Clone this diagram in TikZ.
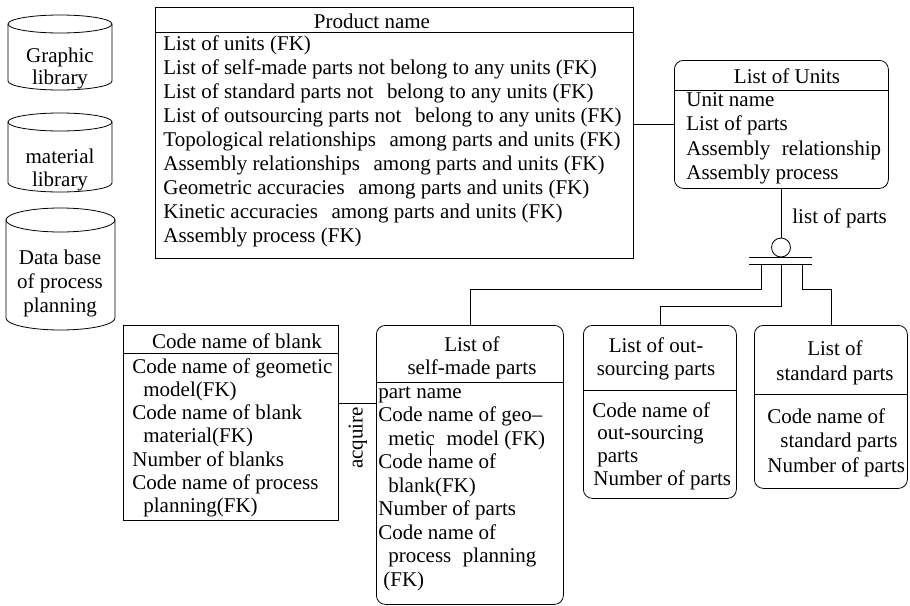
\documentclass[tikz,border=0pt]{standalone}
\usepackage{fontspec}
\setmainfont{Liberation Serif}
\begin{document}
\begin{tikzpicture}[x=1pt, y=-1pt, line width=0.8pt,
    tbl/.style={draw, anchor=north west, inner sep=0pt},
    ent/.style={tbl, rounded corners=9pt},
    txt/.style={anchor=base west, inner sep=0pt, font=\fontsize{21}{24}\selectfont},
    hdr/.style={anchor=base, inner sep=0pt, font=\fontsize{21}{24}\selectfont}]
    \useasboundingbox (0,0) rectangle (910,605);

    % data stores on the left
    \foreach \cx/\rx/\yt/\yb/\ry in {60/52/24/81/9, 60/52/122/183/9, 60.5/54.5/220/318/12} {
        \draw (\cx-\rx,\yt) -- (\cx-\rx,\yb)
            arc[start angle=180, end angle=360, x radius=\rx pt, y radius=\ry pt] -- (\cx+\rx,\yt);
        \draw (\cx,\yt) ellipse[x radius=\rx pt, y radius=\ry pt];
    }
    \node[hdr] (gra-1) at (60,62) {Graphic};
    \node[hdr] (gra-2) at (60,84) {library};
    \node[hdr] (mat-1) at (60,163) {material};
    \node[hdr] (mat-2) at (60,186) {library};
    \node[hdr] (dbp-1) at (60,264) {Data base};
    \node[hdr] (dbp-2) at (60,288) {of process};
    \node[hdr] (dbp-3) at (60,312) {planning};

    % product table
    \node[tbl, minimum width=478, minimum height=251] (prod) at (155,7) {};
    \draw (prod.west |- 0,32) -- (prod.east |- 0,32);
    \node[hdr] (prod-h) at (372,28) {Product name};
    \foreach \t [count=\i] in {List of units (FK),
        List of self-made parts not belong to any units (FK),
        List of standard parts not\hspace{0.4em} belong to any units (FK),
        List of outsourcing parts not\hspace{0.4em} belong to any units (FK),
        Topological relationships\hspace{0.4em} among parts and units (FK),
        Assembly relationships\hspace{0.4em} among parts and units (FK),
        Geometric accuracies\hspace{0.4em} among parts and units (FK),
        Kinetic accuracies\hspace{0.4em} among parts and units (FK),
        Assembly process (FK)}
        \node[txt] (prod-\i) at (163,{50+24.1*(\i-1)}) {\t};

    % units
    \node[ent, minimum width=214, minimum height=128] (units) at (674,60) {};
    \draw (units.west |- 0,90) -- (units.east |- 0,90);
    \node[hdr] (units-h) at (787,83) {List of Units};
    \foreach \t [count=\i] in {Unit name, List of parts,
        Assembly\hspace{0.3em} relationship, Assembly process}
        \node[txt] (units-\i) at (686,{106+24.5*(\i-1)}) {\t};
    \draw (prod.east |- 0,124) -- (units.west |- 0,124);

    % blank
    \node[tbl, minimum width=215, minimum height=195] (blank) at (123,325) {};
    \draw (blank.west |- 0,353) -- (blank.east |- 0,353);
    \node[hdr] (blank-h) at (237,348) {Code name of blank};
    \foreach \d/\t [count=\i] in {0/Code name of geometic, 11/model(FK),
        0/Code name of blank, 11/material(FK), 0/Number of blanks,
        0/Code name of process, 11/planning(FK)}
        \node[txt] (blank-\i) at (132+\d,{373+23.3*(\i-1)}) {\t};

    % self-made parts
    \node[ent, minimum width=187, minimum height=279] (self) at (376,325) {};
    \draw (self.west |- 0,382) -- (self.east |- 0,382);
    \node[hdr] (self-h1) at (472,351) {List of};
    \node[hdr] (self-h2) at (472,374) {self-made parts};
    \foreach \d/\t [count=\i] in {0/part name, 0/Code name of geo--,
        10/metic\hspace{0.3em} model (FK), 0/Code name of, 10/blank(FK),
        0/Number of parts, 0/Code name of, 10/process\hspace{0.3em} planning, 5/(FK)}
        \node[txt] (self-\i) at (378+\d,{398+23.5*(\i-1)}) {\t};
    \draw[line width=0.6pt] (430,446) -- (430,456);
    \draw (blank.east |- 0,403) -- (self.west |- 0,403);
    \node[hdr, rotate=90, anchor=center] (acq) at (358,438) {acquire};

    % out-sourcing parts
    \node[ent, minimum width=153, minimum height=173] (outs) at (583,325) {};
    \draw (outs.west |- 0,390) -- (outs.east |- 0,390);
    \node[hdr] (outs-h1) at (656,352) {List of out-};
    \node[hdr] (outs-h2) at (656,375) {sourcing parts};
    \foreach \x/\t [count=\i] in {592/Code name of, 597/out-sourcing,
        597/parts, 593/Number of parts}
        \node[txt] (outs-\i) at (\x,{417+22.7*(\i-1)}) {\t};

    % standard parts
    \node[ent, minimum width=153, minimum height=163] (std) at (754,325) {};
    \draw (std.west |- 0,394) -- (std.east |- 0,394);
    \node[hdr] (std-h1) at (835,355) {List of};
    \node[hdr] (std-h2) at (835,380) {standard parts};
    \foreach \x/\t [count=\i] in {767/Code name of, 780/standard parts, 767/Number of parts}
        \node[txt] (std-\i) at (\x,{423+24.5*(\i-1)}) {\t};

    % subtype link from units to the part lists
    \node[draw, circle, inner sep=0pt, minimum size=19] (opt) at (781,247.5) {};
    \node[hdr, anchor=base west] (lbl) at (792,223) {list of parts};
    \draw (units.south -| opt) -- (opt.north);
    \coordinate (barA) at (749,257);
    \coordinate (barB) at (749,264);
    \draw (barA) -- ++(63,0);
    \draw (barB) -- ++(63,0);
    \draw (barB -| 761,0) -- (761,289) -| (self.north);
    \draw (barB -| opt) -- (781,306) -| (outs.north);
    \draw (barB -| 802,0) -- (802,289) -| (std.north);
\end{tikzpicture}
\end{document}
